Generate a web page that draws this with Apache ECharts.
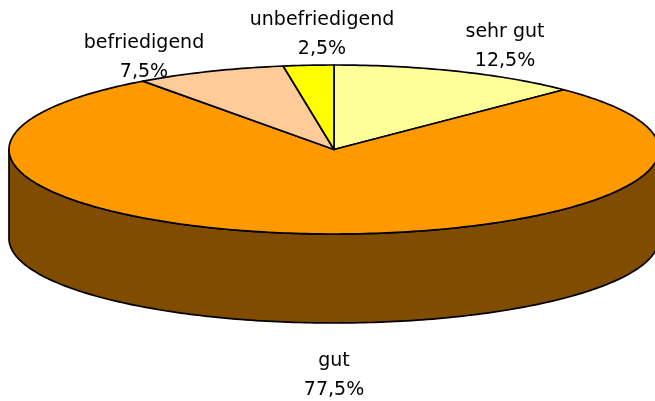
<!DOCTYPE html>
<html>
<head>
<meta charset="utf-8">
<style>html,body{margin:0;padding:0;background:#fff}#chart{width:655px;height:401px}</style>
<script src="https://cdn.jsdelivr.net/npm/echarts@6/dist/echarts.min.js"></script>
</head>
<body>
<div id="chart"></div>
<script>
var categories = ['sehr gut', 'gut', 'befriedigend', 'unbefriedigend'];
var shares = [12.5, 77.5, 7.5, 2.5];
var topColors = ['#FFFF99', '#FF9900', '#FFCC99', '#FFFF00'];
var sideColors = ['#7F7F4C', '#7F4C00', '#7F6600', '#7F7F00'];

// Ellipse of the top face and height of the wall
var cx = 334, cy = 149.5, rx = 325, ry = 84.5, depth = 89;
var edge = { stroke: '#000', lineWidth: 1.7, lineJoin: 'round' };
// centre of each two-line label
var labelPos = [[505, 47], [334, 376], [144, 58], [322, 35]];

var total = shares.reduce(function (a, b) { return a + b; }, 0);

function startAngle(i) {
    var sum = 0;
    for (var k = 0; k < i; k++) sum += shares[k];
    return sum / total * Math.PI * 2;
}
// angle counted clockwise from 12 o'clock
function rimPoint(a, dy) {
    return [cx + rx * Math.sin(a), cy - ry * Math.cos(a) + (dy || 0)];
}
function arc(a0, a1, dy) {
    var pts = [];
    var n = Math.max(2, Math.ceil((a1 - a0) * 60));
    for (var i = 0; i <= n; i++) pts.push(rimPoint(a0 + (a1 - a0) * i / n, dy));
    return pts;
}

function renderSide(params, api) {
    var i = params.dataIndex;
    // only the front half of the rim shows a wall
    var a0 = Math.max(startAngle(i), Math.PI / 2);
    var a1 = Math.min(startAngle(i) + api.value(1) / total * Math.PI * 2, Math.PI * 1.5);
    if (a1 <= a0) return { type: 'group', children: [] };
    var pts = arc(a0, a1, 0).concat(arc(a0, a1, depth).reverse());
    return {
        type: 'polygon',
        shape: { points: pts },
        style: Object.assign({ fill: sideColors[i] }, edge)
    };
}

function renderTop(params, api) {
    var i = params.dataIndex;
    var a0 = startAngle(i);
    var a1 = a0 + api.value(1) / total * Math.PI * 2;
    return {
        type: 'polygon',
        shape: { points: [[cx, cy]].concat(arc(a0, a1, 0)) },
        style: Object.assign({ fill: topColors[i] }, edge)
    };
}

function renderLabel(params, api) {
    var i = params.dataIndex;
    return {
        type: 'text',
        x: labelPos[i][0],
        y: labelPos[i][1],
        style: {
            text: categories[i] + '\n' + api.value(1).toFixed(1).replace('.', ',') + '%',
            fill: '#000',
            font: '19px "DejaVu Sans"',
            lineHeight: 29,
            textAlign: 'center',
            textVerticalAlign: 'middle'
        }
    };
}

var seriesData = categories.map(function (name, i) { return [i, shares[i]]; });

var chart = echarts.init(document.getElementById('chart'), null, { renderer: 'canvas' });
chart.setOption({
    animation: false,
    backgroundColor: '#fff',
    series: [
        { type: 'custom', coordinateSystem: 'none', z: 1, data: seriesData, renderItem: renderSide, silent: true },
        { type: 'custom', coordinateSystem: 'none', z: 2, data: seriesData, renderItem: renderTop, silent: true },
        { type: 'custom', coordinateSystem: 'none', z: 3, data: seriesData, renderItem: renderLabel, silent: true }
    ]
});
</script>
</body>
</html>
